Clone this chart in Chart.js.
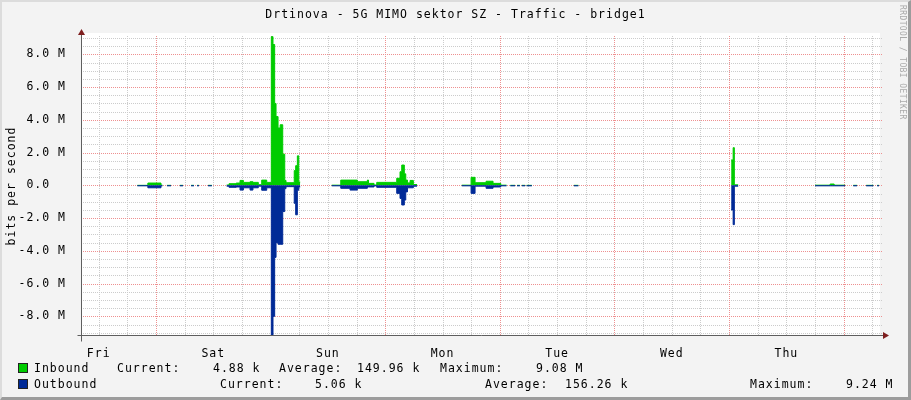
<!DOCTYPE html>
<html>
<head>
<meta charset="utf-8">
<script src="https://cdn.jsdelivr.net/npm/chart.js@4.4.1/dist/chart.umd.min.js"></script>
<style>
  html, body { margin: 0; padding: 0; }
  body { width: 911px; height: 400px; overflow: hidden; }
  #wrap { position: relative; width: 911px; height: 400px; background: #f3f3f3; }
  #chart { position: absolute; left: 0; top: 0; }
  #edge { position: absolute; left: 0; top: 0; width: 911px; height: 400px; box-sizing: border-box;
          border-left: 2px solid #dcdcdc; border-top: 2px solid #dcdcdc;
          border-right: 3px solid #9c9c9c; border-bottom: 3px solid #9c9c9c; pointer-events: none; }
  .t { position: absolute; font-family: "DejaVu Sans Mono", monospace; font-size: 11.5px;
       letter-spacing: 1px; line-height: 14px; color: #000; white-space: pre; }
  .box { position: absolute; width: 8px; height: 8px; border: 1px solid #222; }
  #mark { position: absolute; left: 898px; top: 5px; writing-mode: vertical-rl;
          font-family: "DejaVu Sans Mono", monospace; font-size: 8px; letter-spacing: 0.4px; color: #a9a9a9; }
</style>
</head>
<body>
<div id="wrap">
  <canvas id="chart" width="911" height="400"></canvas>
  <div class="t" style="left:0;top:7px;width:911px;text-align:center;">Drtinova - 5G MIMO sektor SZ - Traffic - bridge1</div>
  <div class="t" style="left:11px;top:186px;transform:translate(-50%,-50%) rotate(-90deg);">bits per second</div>
  <div id="mark">RRDTOOL / TOBI OETIKER</div>

  <div class="box" style="left:18px;top:363px;background:#00cc00;"></div>
  <div class="t" style="left:34px;top:361px;">Inbound</div>
  <div class="t" style="left:117px;top:361px;">Current:</div>
  <div class="t" style="left:213px;top:361px;">4.88 k</div>
  <div class="t" style="left:279px;top:361px;">Average:</div>
  <div class="t" style="left:357px;top:361px;">149.96 k</div>
  <div class="t" style="left:440px;top:361px;">Maximum:</div>
  <div class="t" style="left:536px;top:361px;">9.08 M</div>

  <div class="box" style="left:18px;top:379px;background:#002a97;"></div>
  <div class="t" style="left:34px;top:377px;">Outbound</div>
  <div class="t" style="left:220px;top:377px;">Current:</div>
  <div class="t" style="left:315px;top:377px;">5.06 k</div>
  <div class="t" style="left:485px;top:377px;">Average:</div>
  <div class="t" style="left:565px;top:377px;">156.26 k</div>
  <div class="t" style="left:750px;top:377px;">Maximum:</div>
  <div class="t" style="left:846px;top:377px;">9.24 M</div>
  <div id="edge"></div>
</div>
<script>
// x axis is hours counted from Friday 00:00, y values are Mbit/s
const dayNames = ["Fri", "Sat", "Sun", "Mon", "Tue", "Wed", "Thu"];
const yLabelValues = [-8, -6, -4, -2, 0, 2, 4, 6, 8];

// one row per sample; null = no data (gap)
const hours = [
    20.1, 22.3, 25.05, 25.35, 25.4, 26.3, 27.15, 27.2, 29.0, 29.65, 29.7, 31.35, 31.95, 32.0, 32.6, 33.0, 33.05, 34.9, 35.7, 35.75,
    38.8, 39.3, 40.8, 41.6, 42.3, 43.7, 44.3, 45.43, 46.14, 47.19, 48.15, 48.5, 48.85, 49.14, 49.56, 50.0, 50.54, 50.96, 51.23, 52.95, 53.25, 53.6, 53.9, 54.2, 54.25,
    60.8, 62.69, 64.64, 66.16, 68.26, 68.5, 69.66, 70.22, 74.41, 75.1, 75.46, 76.0, 76.3, 76.66, 77.2, 77.89, 78.67, 78.72,
    88.03, 89.98, 90.81, 93.12, 94.58, 96.19, 97.4, 97.45, 98.2, 99.2, 99.25, 99.6, 100.2, 100.25, 100.6, 101.3, 101.35, 101.6, 102.7, 102.75, 111.5, 112.45, 112.5,
    144.43, 144.85, 145.1, 145.9, 145.95,
    162.02, 165.16, 166.0, 168.3, 168.35, 170.0, 170.8, 170.85, 172.7, 174.2, 174.25, 175.0, 175.4
];
const inbound = [
    0, 0.14, 0.01, 0.01, null, 0, 0, null, 0, 0, null, 0, 0, null, 0, 0, null, 0, 0, null,
    0.02, 0.1, 0.14, 0.3, 0.18, 0.22, 0.18, 0.04, 0.32, 0.18, 9.08, 8.6, 5.0, 4.2, 3.5, 3.7, 1.9, 0.3, 0.16, 0.9, 1.2, 1.8, 0.2, 0.2, null,
    0.01, 0.32, 0.32, 0.22, 0.32, 0.12, 0.02, 0.18, 0.43, 0.83, 1.24, 0.7, 0.32, 0.15, 0.3, 0.05, 0.05, null,
    0.01, 0.49, 0.16, 0.25, 0.12, 0.01, 0.01, null, 0, 0, null, 0, 0, null, 0, 0, null, 0, 0, null, 0, 0, null,
    1.55, 2.3, 0.03, 0.03, null,
    0.01, 0.08, 0.01, 0.01, null, 0, 0, null, 0, 0, null, 0, 0
];
const outbound = [
    0.03, 0.15, 0.03, 0.03, null, 0.03, 0.03, null, 0.03, 0.03, null, 0.03, 0.03, null, 0.03, 0.03, null, 0.03, 0.03, null,
    0.05, 0.12, 0.1, 0.29, 0.15, 0.29, 0.15, 0.05, 0.3, 0.15, 9.24, 8.0, 4.4, 3.5, 3.6, 3.6, 1.6, 0.2, 0.08, 1.1, 1.8, 0.3, 0.1, 0.1, null,
    0.03, 0.18, 0.29, 0.18, 0.1, 0.1, 0.03, 0.12, 0.49, 0.8, 1.2, 0.9, 0.4, 0.15, 0.15, 0.05, 0.05, null,
    0.03, 0.49, 0.05, 0.18, 0.1, 0.03, 0.03, null, 0.03, 0.03, null, 0.03, 0.03, null, 0.03, 0.03, null, 0.03, 0.03, null, 0.03, 0.03, null,
    1.5, 2.4, 0.05, 0.05, null,
    0.03, 0.03, 0.03, 0.03, null, 0.03, 0.03, null, 0.03, 0.03, null, 0.03, 0.03
];

const X_MIN = 8.3, X_MAX = 175.6;
const Y_MIN = -9.14, Y_MAX = 9.12;

const GREEN = "#00cc00";
const BLUE = "#002a97";
const MINOR = "#cccccc";
const MAJOR = "#ee9090";

// grid every 6 hours / every 0.5 M; major lines at midnight / every 2 M
const xGrid = [];
for (let h = 12; h < X_MAX; h += 6) xGrid.push(h);
const yGrid = [];
for (let v = -9; v <= 9; v += 0.5) yGrid.push(v);
const isMajorX = h => h % 24 === 0;
const isMajorY = v => v % 2 === 0;

const inData = hours.map((h, i) => ({ x: h, y: inbound[i] }));
const outData = hours.map((h, i) => ({ x: h, y: outbound[i] === null ? null : -outbound[i] }));

const plotChrome = {
    id: "plotChrome",
    beforeDraw(chart) {
        const { ctx, chartArea: a } = chart;
        ctx.save();
        ctx.fillStyle = "#ffffff";
        ctx.fillRect(a.left, a.top - 3, a.right - a.left, a.bottom - a.top + 3);
        ctx.restore();
        ctx.letterSpacing = "1px";
    },
    beforeDatasetsDraw(chart) {
        const { ctx, chartArea: a, scales } = chart;
        ctx.save();
        ctx.lineWidth = 1;
        ctx.setLineDash([1, 1]);
        for (const major of [false, true]) {
            ctx.strokeStyle = major ? MAJOR : MINOR;
            ctx.beginPath();
            xGrid.filter(h => isMajorX(h) === major).forEach(h => {
                const px = Math.round(scales.x.getPixelForValue(h)) + 0.5;
                ctx.moveTo(px, a.top);
                ctx.lineTo(px, a.bottom);
            });
            yGrid.filter(v => isMajorY(v) === major).forEach(v => {
                const py = Math.round(scales.y.getPixelForValue(v)) + 0.5;
                ctx.moveTo(a.left, py);
                ctx.lineTo(a.right + 3, py);
            });
            ctx.stroke();
        }
        ctx.restore();
    },
    afterDraw(chart) {
        const { ctx, chartArea: a } = chart;
        const x0 = Math.round(a.left) + 0.5;
        const y0 = Math.round(a.bottom) + 0.5;
        ctx.save();
        ctx.strokeStyle = "#5e5e5e";
        ctx.lineWidth = 1;
        ctx.beginPath();
        ctx.moveTo(x0, y0 + 6);
        ctx.lineTo(x0, a.top - 4);
        ctx.moveTo(x0 - 4, y0);
        ctx.lineTo(a.right + 5, y0);
        ctx.stroke();
        ctx.fillStyle = "#7f1f1f";
        ctx.beginPath();
        ctx.moveTo(x0, a.top - 7);
        ctx.lineTo(x0 - 3.5, a.top - 1);
        ctx.lineTo(x0 + 3.5, a.top - 1);
        ctx.closePath();
        ctx.fill();
        ctx.beginPath();
        ctx.moveTo(a.right + 9, y0);
        ctx.lineTo(a.right + 3, y0 - 3.5);
        ctx.lineTo(a.right + 3, y0 + 3.5);
        ctx.closePath();
        ctx.fill();
        ctx.restore();
    }
};

const tickFont = { family: "DejaVu Sans Mono", size: 11.5 };

new Chart(document.getElementById("chart"), {
    type: "line",
    data: {
        datasets: [
            {
                label: "Outbound",
                data: outData,
                order: 0,
                borderColor: BLUE,
                backgroundColor: BLUE,
                borderWidth: 1,
                fill: "origin",
                stepped: true,
                pointRadius: 0,
                spanGaps: false
            },
            {
                label: "Inbound",
                data: inData,
                order: 1,
                borderColor: GREEN,
                backgroundColor: GREEN,
                borderWidth: 1,
                fill: "origin",
                stepped: true,
                pointRadius: 0,
                spanGaps: false
            }
        ]
    },
    options: {
        responsive: false,
        animation: false,
        events: [],
        layout: { padding: { left: 0, right: 31, top: 36, bottom: 0 } },
        plugins: { legend: { display: false }, tooltip: { enabled: false } },
        scales: {
            x: {
                type: "linear",
                min: X_MIN,
                max: X_MAX,
                afterFit: s => { s.height = 65; },
                afterBuildTicks: s => { s.ticks = xGrid.map(v => ({ value: v })); },
                grid: { display: false },
                border: { display: false },
                ticks: {
                    autoSkip: false,
                    maxRotation: 0,
                    padding: 4,
                    color: "#000",
                    font: tickFont,
                    callback: v => (v % 24 === 12 ? dayNames[(v - 12) / 24] : "")
                }
            },
            y: {
                min: Y_MIN,
                max: Y_MAX,
                afterFit: s => { s.width = 81; },
                afterBuildTicks: s => { s.ticks = yGrid.map(v => ({ value: v })); },
                grid: { display: false },
                border: { display: false },
                ticks: {
                    autoSkip: false,
                    padding: 7,
                    color: "#000",
                    font: tickFont,
                    callback: v => {
                        if (!yLabelValues.includes(v)) return "";
                        return v === 0 ? "0.0  " : v.toFixed(1) + " M";
                    }
                }
            }
        }
    },
    plugins: [plotChrome]
});
</script>
</body>
</html>
